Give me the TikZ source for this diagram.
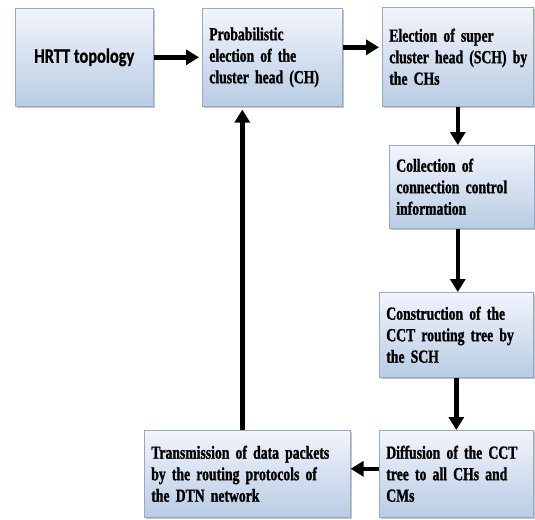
\documentclass[tikz,border=0pt]{standalone}
\usepackage{fontspec}
\newfontfamily\stepfont{Liberation Serif}[FakeStretch=0.74, WordSpace=0.7, BoldFeatures={FakeBold=1.2}]
\newfontfamily\topofont{Carlito}[FakeStretch=0.8, BoldFeatures={FakeBold=0.8}]
\usetikzlibrary{arrows.meta, shadows}
\definecolor{boxtop}{RGB}{243,244,252}
\definecolor{boxbot}{RGB}{184,204,228}
\definecolor{boxline}{RGB}{150,170,196}

\begin{document}
\begin{tikzpicture}[x=1pt, y=-1pt,
  stepbox/.style={draw=boxline, line width=0.6pt, top color=boxtop, bottom color=boxbot,
    drop shadow={shadow xshift=1.5pt, shadow yshift=-2pt, fill=black!45, opacity=0.5},
    anchor=north west, inner xsep=7pt, align=left,
    font=\stepfont\bfseries\fontsize{18.5}{21.5}\selectfont},
  flow/.style={line width=4.5pt, -{Triangle[length=13pt,width=15pt]}}]
\useasboundingbox (0,0) rectangle (535,519);

% steps of the scheme
\node[stepbox, minimum width=138, minimum height=98, align=center,
  font=\topofont\bfseries\fontsize{20.5}{24}\selectfont] (hrtt) at (15,8) {HRTT topology};
\node[stepbox, minimum width=140, minimum height=98, text width=126] (probch) at (202,8)
  {Probabilistic\\election~of~the\\cluster~head~(CH)};
\node[stepbox, minimum width=151, minimum height=99, text width=137] (elecsch) at (382,7)
  {Election~of~super\\cluster~head~(SCH)~by\\the~CHs};
\node[stepbox, minimum width=145, minimum height=83, text width=131] (collect) at (389,145)
  {Collection~of\\connection~control\\information};
\node[stepbox, minimum width=154, minimum height=85, text width=140] (construct) at (379,292)
  {Construction~of~the\\CCT~routing~tree~by\\the~SCH};
\node[stepbox, minimum width=154, minimum height=87, text width=140] (diffuse) at (379,430)
  {Diffusion~of~the~CCT\\tree~to~all~CHs~and\\CMs};
\node[stepbox, minimum width=206, minimum height=87, text width=192] (transmit) at (144,430)
  {Transmission~of~data~packets\\by~the~routing~protocols~of\\the~DTN~network};

% arrows
\draw[flow, shorten >=3pt] (hrtt) -- (probch);
\draw[flow, shorten >=3pt] ([yshift=10pt]probch.east) -- ([yshift=10pt]probch.east -| elecsch.west);
\draw[flow] (elecsch.south) -- (elecsch.south |- collect.north);
\draw[flow] (collect.south -| elecsch.south) -- (elecsch.south |- construct.north);
\draw[flow] (construct.south) -- (diffuse.north);
\draw[flow] ([yshift=5pt]diffuse.west) -- ([yshift=5pt]transmit.east);
\draw[flow, shorten >=3pt] ([xshift=-5pt]transmit.north) -- ([xshift=-5pt]transmit.north |- probch.south);
\end{tikzpicture}
\end{document}
